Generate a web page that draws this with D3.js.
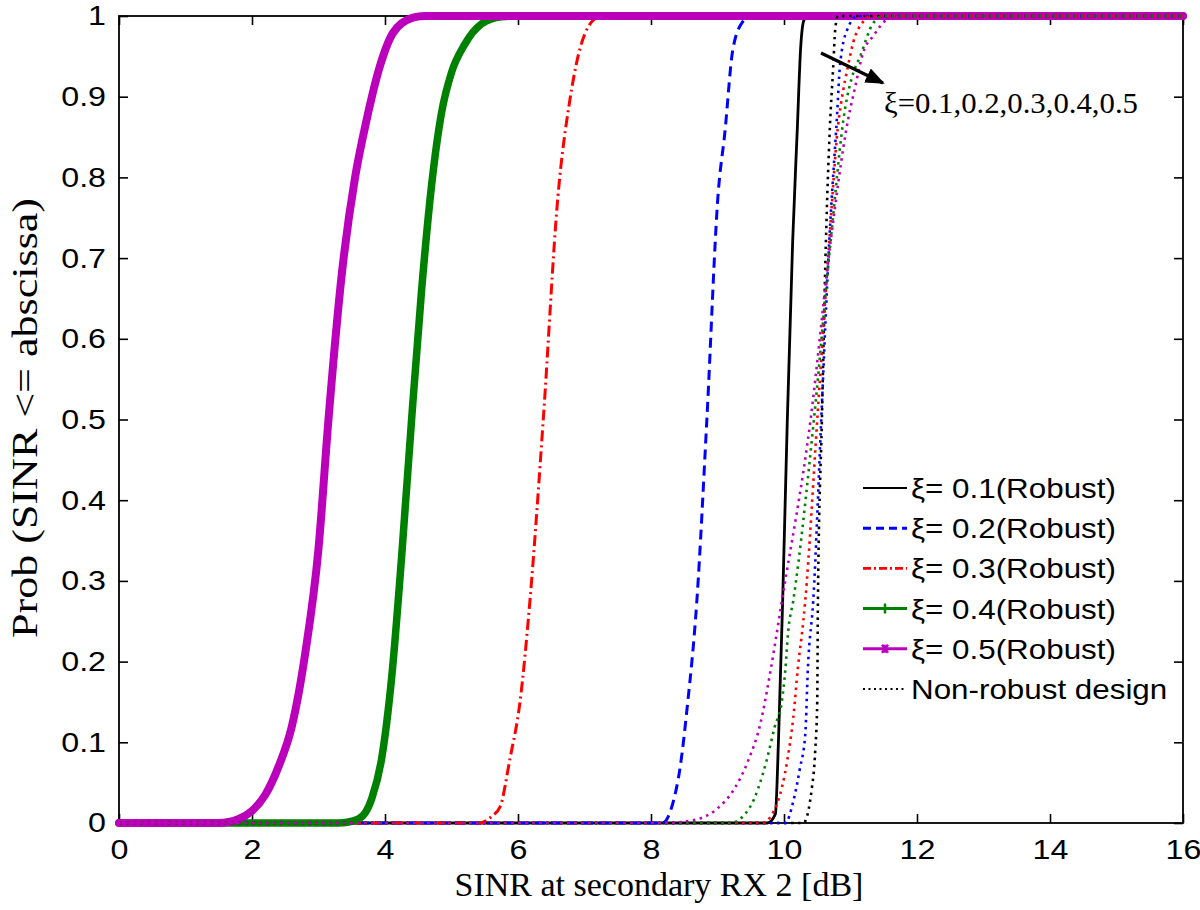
<!DOCTYPE html>
<html><head><meta charset="utf-8">
<script src="https://cdn.jsdelivr.net/npm/d3@7"></script>
<style>html,body{margin:0;padding:0;background:#fff;}svg{display:block;}</style>
</head><body><svg id="c" width="1200" height="910"></svg>
<script>
// ---- data (x = SINR dB, p = CDF) ----
const xTicks = [0,2,4,6,8,10,12,14,16];
const yTicks = [0,0.1,0.2,0.3,0.4,0.5,0.6,0.7,0.8,0.9,1];
const yTickLabels = ["0","0.1","0.2","0.3","0.4","0.5","0.6","0.7","0.8","0.9","1"];
const seriesNames = ["ξ= 0.1(Robust)","ξ= 0.2(Robust)","ξ= 0.3(Robust)","ξ= 0.4(Robust)","ξ= 0.5(Robust)","Non-robust design"];

const robust01 = [[0,0],[9.75,0],[9.87,0.011],[9.92,0.11],[9.98,0.276],[10.05,0.5],[10.13,0.72],[10.2,0.86],[10.25,0.96],[10.3,0.995],[10.36,1],[16,1]];
const robust02 = [[0,0],[8.17,0],[8.33,0.025],[8.44,0.07],[8.54,0.14],[8.69,0.276],[8.84,0.5],[9.01,0.78],[9.11,0.855],[9.23,0.958],[9.38,0.993],[9.5,1],[16,1]];
const robust03 = [[0,0],[5.43,0],[5.6,0.008],[5.73,0.02],[5.88,0.08],[6.03,0.15],[6.18,0.276],[6.38,0.5],[6.6,0.776],[6.78,0.896],[6.9,0.949],[7.11,0.993],[7.25,1],[16,1]];
const robust04 = [[0,0],[3.3,0],[3.6,0.005],[3.8,0.03],[3.95,0.08],[4.1,0.18],[4.25,0.33],[4.4,0.5],[4.55,0.66],[4.7,0.79],[4.85,0.88],[5.0,0.93],[5.2,0.965],[5.45,0.99],[5.75,0.999],[6.0,1],[16,1]];
const robust05 = [[0,0],[1.5,0],[1.8,0.005],[2.0,0.015],[2.2,0.035],[2.4,0.07],[2.6,0.12],[2.8,0.21],[3.0,0.34],[3.15,0.5],[3.35,0.68],[3.55,0.8],[3.72,0.87],[3.92,0.937],[4.12,0.979],[4.42,0.998],[4.6,1],[16,1]];

const nonRobust01 = [[0,0],[10.29,0],[10.42,0.044],[10.47,0.09],[10.5,0.152],[10.51,0.276],[10.57,0.5],[10.63,0.72],[10.69,0.862],[10.74,0.937],[10.77,0.983],[10.81,1],[16,1]];
const nonRobust02 = [[0,0],[10.02,0],[10.14,0.027],[10.24,0.068],[10.32,0.11],[10.36,0.193],[10.44,0.276],[10.56,0.5],[10.68,0.72],[10.8,0.88],[10.84,0.937],[10.95,0.983],[11.11,1],[16,1]];
const nonRobust03 = [[0,0],[9.67,0],[9.9,0.025],[10.05,0.078],[10.14,0.131],[10.21,0.193],[10.29,0.25],[10.32,0.276],[10.5,0.5],[10.68,0.72],[10.81,0.862],[10.89,0.908],[10.95,0.933],[11.04,0.967],[11.19,0.993],[11.3,1],[16,1]];
const nonRobust04 = [[0,0],[9.19,0],[9.49,0.02],[9.74,0.078],[9.86,0.119],[9.97,0.152],[10.02,0.19],[10.06,0.235],[10.14,0.276],[10.45,0.5],[10.7,0.72],[10.92,0.886],[11.04,0.929],[11.14,0.949],[11.34,0.991],[11.5,1],[16,1]];
const nonRobust05 = [[0,0],[8.2,0],[8.6,0.003],[9.0,0.018],[9.25,0.042],[9.45,0.075],[9.65,0.125],[9.8,0.19],[9.97,0.276],[10.4,0.5],[10.7,0.72],[10.96,0.87],[11.07,0.912],[11.19,0.955],[11.34,0.975],[11.56,0.996],[11.8,1],[16,1]];

// ---- layout ----
const svg = d3.select("#c");
const X0 = 119, X1 = 1183, Y0 = 823, Y1 = 16;
const x = d3.scaleLinear().domain([0,16]).range([X0,X1]);
const y = d3.scaleLinear().domain([0,1]).range([Y0,Y1]);
const SANS = "'Liberation Sans', Arial, Helvetica, sans-serif";
const SERIF = "'Liberation Serif', 'Times New Roman', serif";

function stretch(sel, f){
  sel.each(function(){
    const L = this.getComputedTextLength();
    if (L>0) d3.select(this).attr("textLength", L*f).attr("lengthAdjust","spacingAndGlyphs");
  });
}

// frame + inward ticks
const tickLen = 9;
const gAx = svg.append("g");
const axB = d3.axisBottom(x).tickValues(xTicks).tickSizeInner(-tickLen).tickSizeOuter(0).tickPadding(16).tickFormat(d3.format("d"));
const axT = d3.axisTop(x).tickValues(xTicks).tickSizeInner(-tickLen).tickSizeOuter(0).tickFormat("");
const axL = d3.axisLeft(y).tickValues(yTicks).tickSizeInner(-tickLen).tickSizeOuter(0).tickPadding(13).tickFormat((d,i)=>yTickLabels[i]);
const axR = d3.axisRight(y).tickValues(yTicks).tickSizeInner(-tickLen).tickSizeOuter(0).tickFormat("");
[[axB,`translate(0,${Y0})`],[axT,`translate(0,${Y1})`],[axL,`translate(${X0},0)`],[axR,`translate(${X1},0)`]].forEach(([a,t])=>{
  const g = gAx.append("g").attr("transform",t).call(a);
  g.select(".domain").remove();
  g.selectAll("line").attr("stroke","#000").attr("stroke-width",1.6);
  const tx = g.selectAll("text").attr("font-family",SANS).attr("font-size",28).attr("fill","#000");
  stretch(tx, 1.15);
});
gAx.append("rect").attr("x",X0).attr("y",Y1).attr("width",X1-X0).attr("height",Y0-Y1)
  .attr("fill","none").attr("stroke","#000").attr("stroke-width",1.8);

// axis labels
svg.append("text").attr("x",(X0+X1)/2 + 8).attr("y",896).attr("text-anchor","middle")
  .attr("font-family",SERIF).attr("font-size",34).text("SINR at secondary RX 2 [dB]");
const yl = svg.append("text").attr("transform",`translate(37,${418}) rotate(-90)`).attr("text-anchor","middle")
  .attr("font-family",SERIF).attr("font-size",36).text("Prob (SINR <= abscissa)");
yl.attr("textLength",440).attr("lengthAdjust","spacingAndGlyphs");

// lines
const line = d3.line().x(d=>x(d[0])).y(d=>y(d[1])).curve(d3.curveMonotoneX);
const styles = [
  {data:robust01, color:"#000000", w:2.8, dash:null},
  {data:robust02, color:"#0000ff", w:3, dash:"10,6"},
  {data:robust03, color:"#ff0000", w:3, dash:"11,4,2,4"},
  {data:robust04, color:"#008000", w:7.5, dash:null, marker:"+"},
  {data:robust05, color:"#bb00bb", w:8, dash:null, marker:"x"},
];
const gL = svg.append("g");
styles.forEach(s=>{
  gL.append("path").attr("d",line(s.data)).attr("fill","none").attr("stroke",s.color)
    .attr("stroke-width",s.w).attr("stroke-dasharray",s.dash).attr("stroke-linejoin","round").attr("stroke-linecap", s.dash?"butt":"round");
});
const nonStyles = [
  {data:nonRobust01, color:"#000000"},
  {data:nonRobust02, color:"#0000ff"},
  {data:nonRobust03, color:"#ff0000"},
  {data:nonRobust04, color:"#008000"},
  {data:nonRobust05, color:"#bb00bb"},
];
nonStyles.forEach(s=>{
  gL.append("path").attr("d",line(s.data)).attr("fill","none").attr("stroke",s.color)
    .attr("stroke-width",2.6).attr("stroke-dasharray","2.5,4.5");
});

// annotation arrow
const defs = svg.append("defs");
defs.append("marker").attr("id","ah").attr("viewBox","0 0 10 10").attr("refX",9).attr("refY",5)
  .attr("markerWidth",6).attr("markerHeight",6).attr("markerUnits","strokeWidth").attr("orient","auto")
  .append("path").attr("d","M0,1 L10,5 L0,9 Z").attr("fill","#000");
svg.append("line").attr("x1",821).attr("y1",53).attr("x2",883).attr("y2",83)
  .attr("stroke","#000").attr("stroke-width",3.2).attr("marker-end","url(#ah)");
const ann = svg.append("text").attr("x",884).attr("y",113).attr("font-family",SERIF).attr("font-size",30).text("ξ=0.1,0.2,0.3,0.4,0.5");
ann.attr("textLength",254).attr("lengthAdjust","spacingAndGlyphs");

// legend
const legStyles = [
  {color:"#000000", w:2.2, dash:null},
  {color:"#0000ff", w:3, dash:"8,5"},
  {color:"#ff0000", w:2.6, dash:"8,3,2,3"},
  {color:"#008000", w:3, dash:null, marker:"+"},
  {color:"#bb00bb", w:3, dash:null, marker:"x"},
  {color:"#000000", w:2, dash:"2,3.5"},
];
const gLeg = svg.append("g");
seriesNames.forEach((nm,i)=>{
  const cy = 488 + i*40.2, s = legStyles[i];
  gLeg.append("line").attr("x1",863).attr("x2",907).attr("y1",cy).attr("y2",cy)
    .attr("stroke",s.color).attr("stroke-width",s.w).attr("stroke-dasharray",s.dash);
  if (s.marker==="+") {
    gLeg.append("path").attr("d",`M885,${cy-5}V${cy+5}M880,${cy}H890`).attr("stroke",s.color).attr("stroke-width",2.5);
  } else if (s.marker==="x") {
    gLeg.append("path").attr("d",`M882,${cy-4}L888,${cy+4}M882,${cy+4}L888,${cy-4}M885,${cy-4}V${cy+4}`).attr("stroke",s.color).attr("stroke-width",2.5);
  }
  const t = gLeg.append("text").attr("x",911).attr("y",cy).attr("dy","0.36em").attr("font-family",SANS).attr("font-size",28).text(nm);
  stretch(t, 1.12);
});
</script></body></html>
